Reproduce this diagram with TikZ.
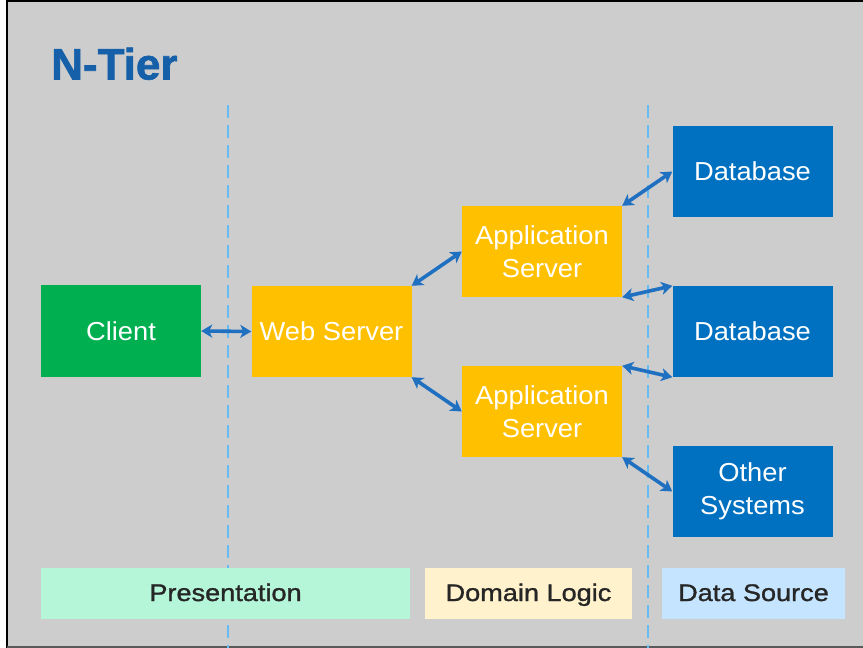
\documentclass[tikz,border=0pt]{standalone}
\usepackage{fontspec}
\setmainfont{Liberation Sans}[FakeStretch=1.05]
\newfontfamily\titlefont[FakeBold=1.5]{Liberation Sans Bold}
\newfontfamily\barfont[FakeBold=1.2, FakeStretch=1.13]{Liberation Sans}
\usetikzlibrary{arrows.meta}

\definecolor{bggray}{HTML}{CDCDCD}
\definecolor{titleblue}{HTML}{1560A8}
\definecolor{tiergreen}{HTML}{00B050}
\definecolor{tierorange}{HTML}{FFC000}
\definecolor{tierblue}{HTML}{0070C0}
\definecolor{linkblue}{HTML}{1F70C1}
\definecolor{dashblue}{HTML}{66BDF6}
\definecolor{presfill}{HTML}{B5F5D8}
\definecolor{logicfill}{HTML}{FFF2CC}
\definecolor{datafill}{HTML}{C4E4FF}
\definecolor{labeltext}{HTML}{262626}

\tikzset{
  tierbox/.style={rectangle, inner sep=0pt, minimum width=160pt, minimum height=91pt,
    text=white, align=center, font=\fontsize{26}{33}\selectfont},
  layerbar/.style={rectangle, inner sep=0pt, minimum height=51pt,
    text height=15pt, text depth=0pt,
    text=labeltext, font=\fontsize{24}{28}\barfont},
  link/.style={draw=linkblue, line width=3.6pt,
    {Stealth[length=11pt,width=13pt,inset=3pt]}-{Stealth[length=11pt,width=13pt,inset=3pt]}},
  divider/.style={draw=dashblue, line width=2.2pt, dash pattern=on 13pt off 7pt},
}

\begin{document}
\begin{tikzpicture}[x=1pt, y=-1pt]
  % canvas and frame
  \useasboundingbox (0,0) rectangle (863,648);
  \fill[white] (0,0) rectangle (863,648);
  \fill[bggray] (7,1) rectangle (863,647);
  \draw[black, line width=2.5pt] (7,648) -- (7,1) -- (863,1);
  \draw[gray!70!black, line width=1.5pt] (7,647) -- (863,647);

  % title
  \node[anchor=base west, text=titleblue, font=\fontsize{44}{48}\titlefont, inner sep=0pt]
    (title) at (51,79.5) {N-Tier};

  % tier dividers
  \coordinate (d1top) at (228,105);
  \coordinate (d1bot) at (228,648);
  \coordinate (d2top) at (648,105);
  \coordinate (d2bot) at (648,648);
  \draw[divider] (d1top) -- (d1bot);
  \draw[divider] (d2top) -- (d2bot);

  % layer labels
  \node[layerbar, fill=presfill, minimum width=369pt] (pres) at (225.5,593.5) {Presentation};
  \node[layerbar, fill=logicfill, minimum width=207pt] (logic) at (528.5,593.5) {Domain Logic};
  \node[layerbar, fill=datafill, minimum width=183pt] (data) at (753.5,593.5) {Data Source};

  % components
  \node[tierbox, fill=tiergreen, minimum height=92pt] (client) at (121,331) {Client};
  \node[tierbox, fill=tierorange] (web) at (331.5,331.5) {Web Server};
  \node[tierbox, fill=tierorange] (app1) at (542,251.5) {Application\\Server};
  \node[tierbox, fill=tierorange] (app2) at (542,411.5) {Application\\Server};
  \node[tierbox, fill=tierblue] (db1) at (752.5,171.5) {Database};
  \node[tierbox, fill=tierblue] (db2) at (752.5,331.5) {Database};
  \node[tierbox, fill=tierblue] (other) at (752.5,491.5) {Other\\Systems};

  % connections
  \draw[link] (client.east) -- (web.west);
  \draw[link] (web.north east) -- (app1.west);
  \draw[link] (web.south east) -- (app2.west);
  \draw[link] (app1.north east) -- (db1.west);
  \draw[link] (app1.south east) -- (db2.north west);
  \draw[link] (app2.north east) -- (db2.south west);
  \draw[link] (app2.south east) -- (other.west);
\end{tikzpicture}
\end{document}
